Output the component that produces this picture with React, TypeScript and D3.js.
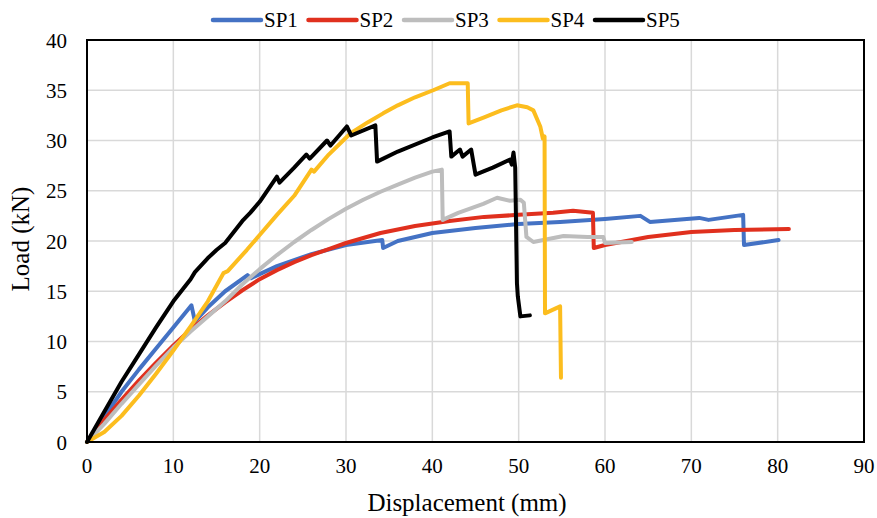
import React, { useRef, useEffect } from "react";
import * as d3 from "d3";

// series data (displacement mm, load kN)
const sp1X = [0, 2, 4, 6, 8, 10, 12.1, 12.5, 14, 16, 18.6, 19, 22, 26, 30, 34.2, 34.3, 36, 40, 45, 50, 54.8, 60, 64.1, 65.2, 70.9, 72, 76, 76.1, 80.1];
const sp1Y = [0, 2.5, 5, 7.2, 9.3, 11.4, 13.6, 12.0, 13.4, 15, 16.6, 16.3, 17.5, 18.7, 19.6, 20.1, 19.3, 20, 20.8, 21.3, 21.7, 21.9, 22.2, 22.5, 21.9, 22.3, 22.1, 22.6, 19.6, 20.1];

const sp2X = [0, 2, 4, 6, 8, 10, 12, 14, 16, 18, 20, 22, 24, 26, 28, 30, 34, 38, 42, 46, 50, 54, 56.3, 58.6, 58.7, 60, 65, 70, 75, 81.3];
const sp2Y = [0, 2.2, 4.2, 6.1, 7.9, 9.6, 11.2, 12.6, 13.9, 15.1, 16.2, 17.1, 17.9, 18.6, 19.2, 19.8, 20.8, 21.5, 22, 22.4, 22.6, 22.8, 23.0, 22.8, 19.3, 19.6, 20.4, 20.9, 21.1, 21.2];

const sp3X = [0, 2, 4, 6, 8, 10, 12, 14, 16, 18, 20, 22, 24, 26, 28, 30, 32, 34, 36, 38, 40, 41.1, 41.2, 43, 45.9, 47.5, 49, 50.2, 50.6, 50.9, 51.7, 55.2, 58, 59.8, 60, 63.1];
const sp3Y = [0, 1.8, 3.8, 5.7, 7.6, 9.4, 11, 12.5, 14, 15.7, 17.2, 18.6, 19.9, 21.1, 22.2, 23.2, 24.1, 24.9, 25.6, 26.3, 26.9, 27.1, 22.1, 22.8, 23.7, 24.3, 24.0, 24.1, 23.8, 20.4, 19.9, 20.5, 20.4, 20.4, 19.8, 19.9];

const sp4X = [0, 2, 4, 6, 8, 10, 12, 14, 15.8, 16.3, 18.5, 20, 22, 24, 26, 26.3, 28, 30.5, 32.5, 34.3, 36, 38, 40.1, 42, 44.1, 44.2, 46, 48, 49.8, 51, 51.7, 52.5, 52.8, 53, 53.05, 54.8, 54.9];
const sp4Y = [0, 1, 2.6, 4.6, 6.8, 9.1, 11.5, 14, 16.8, 17, 19.1, 20.6, 22.6, 24.5, 27.1, 26.9, 28.6, 30.7, 31.8, 32.7, 33.5, 34.3, 35, 35.7, 35.7, 31.7, 32.3, 33, 33.5, 33.3, 33, 31.4, 30.2, 30.4, 12.8, 13.5, 6.4];

const sp5X = [0, 2, 4, 6, 8, 10, 12, 12.5, 14, 15, 16, 18, 18.9, 20, 22, 22.3, 24, 25.4, 25.8, 27.8, 28.2, 30.1, 30.6, 33.4, 33.6, 36, 40, 42, 42.2, 43.2, 43.5, 44.5, 45, 47, 49, 49.2, 49.4, 49.6, 49.8, 49.9, 50.2, 51.3];
const sp5Y = [0, 3.0, 6.0, 8.7, 11.4, 14, 16.2, 16.9, 18.3, 19.1, 19.8, 22, 22.8, 23.9, 26.4, 25.8, 27.3, 28.6, 28.2, 30.0, 29.5, 31.4, 30.5, 31.5, 27.9, 28.9, 30.3, 30.9, 28.4, 29.1, 28.4, 29.1, 26.6, 27.3, 28.1, 27.6, 28.8, 27.3, 15.8, 14.5, 12.5, 12.6];

const seriesNames = ["SP1", "SP2", "SP3", "SP4", "SP5"];
const seriesColors = ["#4472C4", "#E0301E", "#BDBDBD", "#FCBD1E", "#000000"];
const xTicks = [0, 10, 20, 30, 40, 50, 60, 70, 80, 90];
const yTicks = [0, 5, 10, 15, 20, 25, 30, 35, 40];

export default function App() {
  const svgRef = useRef<SVGSVGElement>(null);

  useEffect(() => {
    const width = 877;
    const height = 518;
    const left = 87, right = 864, top = 40, bottom = 442;
    const font = "'Liberation Serif', 'Times New Roman', serif";

    const svg = d3.select(svgRef.current);
    svg.selectAll("*").remove();
    svg.attr("width", width).attr("height", height);

    svg.append("rect").attr("width", width).attr("height", height).attr("fill", "#fff");

    const x = d3.scaleLinear().domain([0, 90]).range([left, right]);
    const y = d3.scaleLinear().domain([0, 40]).range([bottom, top]);

    // gridlines
    svg.append("g")
      .selectAll("line")
      .data(xTicks.slice(1, -1))
      .join("line")
      .attr("x1", (d) => x(d)).attr("x2", (d) => x(d))
      .attr("y1", top).attr("y2", bottom)
      .attr("stroke", "#D9D9D9").attr("stroke-width", 1.5);
    svg.append("g")
      .selectAll("line")
      .data(yTicks.slice(1, -1))
      .join("line")
      .attr("x1", left).attr("x2", right)
      .attr("y1", (d) => y(d)).attr("y2", (d) => y(d))
      .attr("stroke", "#D9D9D9").attr("stroke-width", 1.5);

    // series
    const all = [
      [sp1X, sp1Y], [sp2X, sp2Y], [sp3X, sp3Y], [sp4X, sp4Y], [sp5X, sp5Y],
    ];
    const line = d3.line<[number, number]>().x((d) => x(d[0])).y((d) => y(d[1]));
    all.forEach(([xs, ys], i) => {
      const pts = xs.map((v, j) => [v, ys[j]] as [number, number]);
      svg.append("path")
        .datum(pts)
        .attr("d", line)
        .attr("fill", "none")
        .attr("stroke", seriesColors[i])
        .attr("stroke-width", 4)
        .attr("stroke-linejoin", "round")
        .attr("stroke-linecap", "round");
    });

    // plot border
    svg.append("rect")
      .attr("x", left).attr("y", top)
      .attr("width", right - left).attr("height", bottom - top)
      .attr("fill", "none").attr("stroke", "#000").attr("stroke-width", 2);

    // tick labels
    svg.append("g")
      .selectAll("text")
      .data(xTicks)
      .join("text")
      .attr("x", (d) => x(d)).attr("y", bottom + 31)
      .attr("text-anchor", "middle")
      .style("font-family", font).style("font-size", "21px")
      .text((d) => d);
    svg.append("g")
      .selectAll("text")
      .data(yTicks)
      .join("text")
      .attr("x", left - 20).attr("y", (d) => y(d) + 7.5)
      .attr("text-anchor", "end")
      .style("font-family", font).style("font-size", "21px")
      .text((d) => d);

    // axis titles
    svg.append("text")
      .attr("x", 467).attr("y", 511)
      .attr("text-anchor", "middle")
      .style("font-family", font).style("font-size", "25px")
      .text("Displacement (mm)");
    svg.append("text")
      .attr("transform", `translate(29, 239) rotate(-90)`)
      .attr("text-anchor", "middle")
      .style("font-family", font).style("font-size", "25px")
      .text("Load (kN)");

    // legend
    const legend = svg.append("g").attr("transform", "translate(212, 20)");
    seriesNames.forEach((name, i) => {
      const g = legend.append("g").attr("transform", `translate(${i * 95.5}, 0)`);
      g.append("line")
        .attr("x1", 1).attr("x2", 49).attr("y1", 0).attr("y2", 0)
        .attr("stroke", seriesColors[i]).attr("stroke-width", 4.5)
        .attr("stroke-linecap", "round");
      g.append("text")
        .attr("x", 52).attr("y", 7)
        .style("font-family", font).style("font-size", "21px")
        .text(name);
    });
  }, []);

  return <svg ref={svgRef} style={{ position: "absolute", left: 0, top: 0, display: "block" }}></svg>;
}
